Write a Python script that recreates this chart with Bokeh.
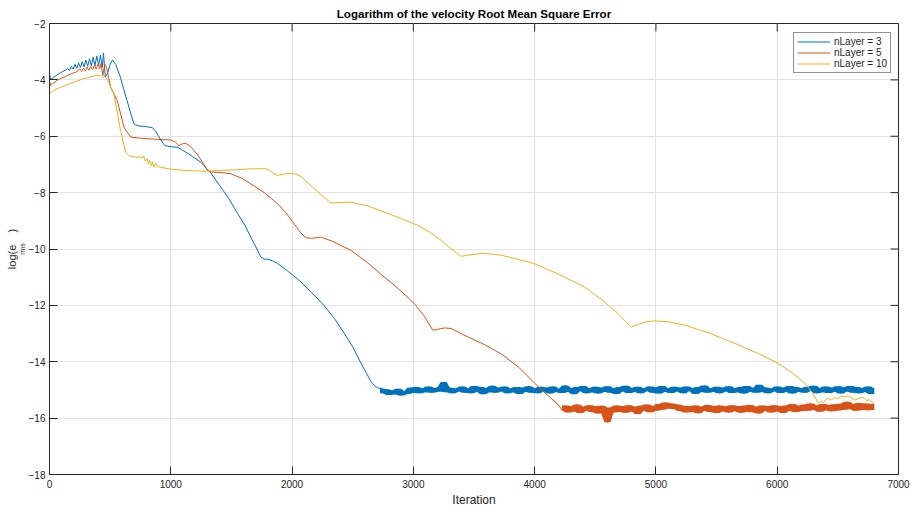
import math
import numpy as np
from bokeh.plotting import figure
from bokeh.models import Title, Legend, LegendItem, FixedTicker, Range1d
from bokeh.embed import file_html
from bokeh.resources import INLINE

# ---------------- data ----------------
series_names = ["nLayer = 3", "nLayer = 5", "nLayer = 10"]
x_ticks = [0, 1000, 2000, 3000, 4000, 5000, 6000, 7000]
y_ticks = [-18, -16, -14, -12, -10, -8, -6, -4, -2]

# nLayer = 3 : smooth part
blue_x = [0, 10, 30, 50, 70, 90, 110, 130, 150, 165, 180, 195, 210, 225, 240, 255, 270, 285,
          300, 315, 330, 345, 360, 375, 390, 405, 420, 435, 445, 460, 480, 500, 520, 545,
          580, 610, 640, 670, 695, 730, 800, 850, 880, 920, 950, 1000, 1054, 1120, 1180,
          1247, 1330, 1412, 1480, 1550, 1610, 1660, 1710, 1742, 1770, 1800, 1840, 1880,
          1970, 2073, 2170, 2263, 2350, 2430, 2500, 2568, 2615, 2651, 2680, 2706]
blue_y = [-3.82, -3.98, -3.92, -3.86, -3.80, -3.75, -3.70, -3.66, -3.60, -3.66, -3.52, -3.62,
          -3.45, -3.58, -3.40, -3.56, -3.35, -3.54, -3.30, -3.52, -3.25, -3.50, -3.20, -3.50,
          -3.15, -3.50, -3.12, -3.55, -3.05, -3.90, -3.75, -3.45, -3.30, -3.45, -3.85, -4.30,
          -4.74, -5.20, -5.55, -5.63, -5.66, -5.70, -5.85, -6.15, -6.33, -6.37, -6.39, -6.55,
          -6.72, -6.92, -7.30, -7.80, -8.22, -8.74, -9.15, -9.58, -10.00, -10.28, -10.36,
          -10.36, -10.42, -10.51, -10.80, -11.17, -11.58, -12.00, -12.47, -12.99, -13.47,
          -14.05, -14.42, -14.71, -14.85, -14.92]
# nLayer = 3 : noisy plateau, iterations 2725..6800 every 25
blue_noise_start, blue_noise_step = 2725, 25
blue_noise = [
    -14.95, -15.12, -14.98, -15.18, -15.02, -15.15, -14.96, -15.20, -15.05, -15.14,
    -14.92, -15.10, -14.90, -15.12, -14.95, -15.08, -14.88, -15.10, -14.93, -15.06,
    -14.90, -14.72, -15.08, -14.92, -15.12, -14.95, -15.05, -14.88, -15.10, -14.94,
    -15.12, -14.86, -15.06, -14.90, -15.15, -14.93, -15.08, -14.85, -15.10, -14.92,
    -15.05, -14.88, -15.12, -14.95, -15.08, -14.90, -15.14, -14.92, -15.06, -14.87,
    -15.10, -14.94, -15.12, -14.89, -15.05, -14.92, -15.13, -14.88, -15.07, -14.96,
    -15.11, -14.84, -15.06, -14.93, -15.15, -14.90, -15.04, -14.86, -15.12, -14.95,
    -15.08, -14.89, -15.13, -14.92, -15.06, -14.87, -15.10, -14.94, -15.14, -14.90,
    -15.05, -14.85, -15.11, -14.93, -15.07, -14.89, -15.12, -14.95, -15.04, -14.88,
    -15.10, -14.91, -15.13, -14.86, -15.06, -14.94, -15.11, -14.89, -15.05, -14.92,
    -15.12, -14.88, -15.04, -14.93, -15.14, -14.90, -15.07, -14.84, -15.10, -14.95,
    -15.06, -14.89, -15.12, -14.92, -15.05, -14.87, -15.11, -14.94, -15.08, -14.90,
    -15.13, -14.86, -15.06, -14.93, -15.10, -14.82, -15.07, -14.91, -15.12, -14.95,
    -15.05, -14.88, -15.11, -14.92, -15.07, -14.86, -15.13, -14.90, -15.06, -14.94,
    -15.10, -14.89, -15.04, -14.85, -15.12, -14.93, -15.08, -14.88, -15.11, -14.92,
    -15.06, -14.87, -15.13, -14.91, -15.05, -14.86, -15.10, -14.90, -15.12, -14.93,
    -15.07, -14.88, -15.14, -14.95]

# nLayer = 5 : smooth part
orange_x = [0, 10, 30, 60, 100, 140, 180, 220, 250, 265, 280, 295, 310, 325, 340, 355, 370,
            385, 400, 415, 425, 440, 455, 470, 504, 559, 614, 669, 750, 850, 930, 1000, 1040,
            1067, 1095, 1123, 1160, 1220, 1270, 1302, 1343, 1420, 1495, 1580, 1660, 1770,
            1880, 1950, 2016, 2070, 2114, 2160, 2238, 2330, 2486, 2620, 2759, 2880, 3006,
            3090, 3160, 3200, 3255, 3311, 3450, 3590, 3724, 3870, 4000, 4070, 4137, 4200]
orange_y = [-4.05, -4.20, -4.12, -4.02, -3.94, -3.86, -3.78, -3.72, -3.62, -3.70, -3.58,
            -3.68, -3.55, -3.66, -3.52, -3.64, -3.48, -3.62, -3.45, -3.60, -3.42, -3.85,
            -3.45, -3.55, -4.26, -4.74, -5.68, -6.03, -6.07, -6.10, -6.12, -6.13, -6.22,
            -6.33, -6.27, -6.25, -6.35, -6.65, -6.98, -7.21, -7.27, -7.29, -7.33, -7.48,
            -7.69, -8.00, -8.39, -8.72, -9.10, -9.42, -9.60, -9.62, -9.58, -9.72, -10.05,
            -10.48, -10.99, -11.42, -11.93, -12.38, -12.88, -12.85, -12.80, -12.82, -13.12,
            -13.40, -13.72, -14.20, -14.76, -15.05, -15.30, -15.55]
# nLayer = 5 : noisy plateau, iterations 4225..6800 every 25
orange_noise_start, orange_noise_step = 4225, 25
orange_noise = [
    -15.72, -15.55, -15.80, -15.58, -15.76, -15.52, -15.82, -15.60, -15.74, -15.54,
    -15.78, -15.57, -15.84, -15.56, -15.75, -16.15, -15.62, -15.80, -15.55, -15.77,
    -15.58, -15.81, -15.54, -15.76, -15.60, -15.85, -15.56, -15.73, -15.52, -15.79,
    -15.57, -15.74, -15.50, -15.70, -15.45, -15.66, -15.48, -15.68, -15.52, -15.75,
    -15.56, -15.80, -15.58, -15.77, -15.55, -15.83, -15.60, -15.74, -15.53, -15.78,
    -15.57, -15.82, -15.55, -15.76, -15.59, -15.80, -15.54, -15.75, -15.58, -15.81,
    -15.56, -15.77, -15.53, -15.79, -15.60, -15.84, -15.55, -15.74, -15.57, -15.80,
    -15.54, -15.76, -15.58, -15.82, -15.55, -15.73, -15.50, -15.78, -15.56, -15.75,
    -15.52, -15.74, -15.48, -15.70, -15.55, -15.77, -15.50, -15.72, -15.53, -15.76,
    -15.51, -15.73, -15.49, -15.70, -15.42, -15.68, -15.50, -15.74, -15.46, -15.71,
    -15.48, -15.72, -15.50, -15.70]

# nLayer = 10
yellow_x = [0, 15, 40, 100, 160, 220, 280, 340, 400, 420, 440, 455, 476, 531, 586, 628, 660,
            696, 720, 740, 760, 775, 790, 805, 815, 825, 840, 850, 862, 875, 890, 917, 1000,
            1108, 1200, 1302, 1420, 1522, 1650, 1767, 1800, 1840, 1880, 1940, 1990, 2040,
            2073, 2155, 2240, 2320, 2400, 2486, 2620, 2760, 2900, 3036, 3140, 3229, 3320,
            3394, 3450, 3559, 3650, 3724, 3860, 3999, 4200, 4412, 4560, 4688, 4760, 4798,
            4850, 4920, 4990, 5100, 5238, 5450, 5651, 5850, 6009, 6120, 6229, 6290, 6340,
            6360, 6380, 6400, 6422, 6445, 6470, 6500, 6530, 6560, 6587, 6610, 6642, 6670,
            6697, 6720, 6740, 6760, 6780, 6800]
yellow_y = [-4.42, -4.45, -4.35, -4.25, -4.15, -4.05, -3.96, -3.90, -3.83, -3.84, -3.92,
            -3.88, -3.97, -4.50, -5.80, -6.57, -6.70, -6.72, -6.76, -6.72, -6.78, -6.70,
            -6.88, -6.80, -6.98, -6.85, -7.05, -6.92, -7.10, -6.95, -7.08, -7.10, -7.17,
            -7.21, -7.23, -7.24, -7.21, -7.19, -7.16, -7.15, -7.17, -7.30, -7.39, -7.34,
            -7.31, -7.36, -7.43, -7.75, -8.08, -8.37, -8.35, -8.34, -8.47, -8.69, -8.92,
            -9.16, -9.42, -9.69, -10.02, -10.26, -10.22, -10.16, -10.18, -10.22, -10.36,
            -10.52, -10.90, -11.35, -11.82, -12.29, -12.62, -12.76, -12.68, -12.58, -12.55,
            -12.58, -12.70, -13.00, -13.35, -13.72, -14.06, -14.38, -14.77, -15.10, -15.47,
            -15.40, -15.45, -15.35, -15.30, -15.36, -15.28, -15.30, -15.22, -15.25, -15.21,
            -15.28, -15.36, -15.30, -15.26, -15.30, -15.38, -15.35, -15.42, -15.50]

colors = ["#0072BD", "#D95319", "#EDB120"]
FONT = "Liberation Sans"
INK = "#262626"


# ---------------- assemble noisy parts (start from last smooth point) ----------------
def noisy(xs, ys, start, step, vals):
    nx = [xs[-1]] + [start + i * step for i in range(len(vals))]
    ny = [ys[-1]] + list(vals)
    arr = np.array(ny)
    n = len(arr)
    # band swept by the dense noise around each sample (its neighbours included)
    lo = np.array([arr[max(i - 1, 0):min(i + 2, n)].min() for i in range(n)])
    hi = np.array([arr[max(i - 1, 0):min(i + 2, n)].max() for i in range(n)])
    return nx, ny, lo, hi


bnx, bny, blo, bhi = noisy(blue_x, blue_y, blue_noise_start, blue_noise_step, blue_noise)
onx, ony, olo, ohi = noisy(orange_x, orange_y, orange_noise_start, orange_noise_step, orange_noise)

p = figure(width=912, height=509, output_backend="svg", toolbar_location=None,
           x_range=Range1d(x_ticks[0], x_ticks[-1]), y_range=Range1d(y_ticks[0], y_ticks[-1]),
           min_border_left=49, min_border_right=14, min_border_top=23, min_border_bottom=35)
p.background_fill_color = "white"
p.border_fill_color = "white"
p.outline_line_color = INK
p.outline_line_width = 1

r1 = p.line(blue_x, blue_y, line_color=colors[0], line_width=1)
p.varea(x=bnx[1:], y1=blo[1:], y2=bhi[1:], fill_color=colors[0])
p.line(bnx, bny, line_color=colors[0], line_width=1)
r2 = p.line(orange_x, orange_y, line_color=colors[1], line_width=1)
p.varea(x=onx[1:], y1=olo[1:], y2=ohi[1:], fill_color=colors[1])
p.line(onx, ony, line_color=colors[1], line_width=1)
r3 = p.line(yellow_x, yellow_y, line_color=colors[2], line_width=1)

# inward ticks on the top and right edges of the box
p.ray(x=x_ticks, y=[y_ticks[-1]] * len(x_ticks), length=8, length_units="screen",
      angle=-math.pi / 2, line_color=INK, line_width=1)
p.ray(x=[x_ticks[-1]] * len(y_ticks), y=y_ticks, length=8, length_units="screen",
      angle=math.pi, line_color=INK, line_width=1)

# axes styling
for ax in (p.xaxis[0], p.yaxis[0]):
    ax.axis_line_color = INK
    ax.major_tick_line_color = INK
    ax.major_tick_in = 8
    ax.major_tick_out = 0
    ax.minor_tick_line_color = None
    ax.major_label_text_font = FONT
    ax.major_label_text_font_size = "10px"
    ax.major_label_text_color = INK
p.xaxis.ticker = FixedTicker(ticks=x_ticks)
p.yaxis.ticker = FixedTicker(ticks=y_ticks)
p.xaxis.major_label_standoff = 5
p.yaxis.major_label_standoff = 4
p.xaxis.axis_label = "Iteration"
p.xaxis.axis_label_text_font = FONT
p.xaxis.axis_label_text_font_style = "normal"
p.xaxis.axis_label_text_font_size = "12px"
p.xaxis.axis_label_text_color = INK
p.xaxis.axis_label_standoff = 2

p.xgrid.ticker = FixedTicker(ticks=x_ticks)
p.ygrid.ticker = FixedTicker(ticks=y_ticks)
p.xgrid.grid_line_color = "#e3e3e3"
p.ygrid.grid_line_color = "#e3e3e3"

# legend
legend = Legend(items=[LegendItem(label=series_names[0], renderers=[r1]),
                       LegendItem(label=series_names[1], renderers=[r2]),
                       LegendItem(label=series_names[2], renderers=[r3])],
                location=(744, 401), orientation="vertical")
legend.label_text_font = FONT
legend.label_text_font_size = "10px"
legend.label_text_color = INK
legend.glyph_width = 33
legend.glyph_height = 11
legend.label_height = 11
legend.label_standoff = 4
legend.spacing = 0
legend.padding = 3
legend.margin = 0
legend.border_line_color = INK
legend.border_line_width = 1
legend.background_fill_color = "white"
legend.background_fill_alpha = 1
p.add_layout(legend, "center")

# title
p.title.text = "Logarithm of the velocity Root Mean Square Error"
p.title.align = "center"
p.title.text_font = FONT
p.title.text_font_size = "11.6px"
p.title.text_font_style = "bold"
p.title.text_color = "black"
p.title.standoff = 7

# y label: log(e_rms) built from two side titles
sub = Title(text="rms", text_font=FONT, text_font_size="7px", text_font_style="normal",
            text_color=INK, align="center", offset=9.4, standoff=0)
p.add_layout(sub, "left")
main = Title(text="log(e\u00a0\u00a0\u00a0\u00a0)", text_font=FONT, text_font_size="11px",
             text_font_style="normal", text_color=INK, align="center", offset=0, standoff=-3)
p.add_layout(main, "left")

open("out.html", "w").write(file_html(p, INLINE))
